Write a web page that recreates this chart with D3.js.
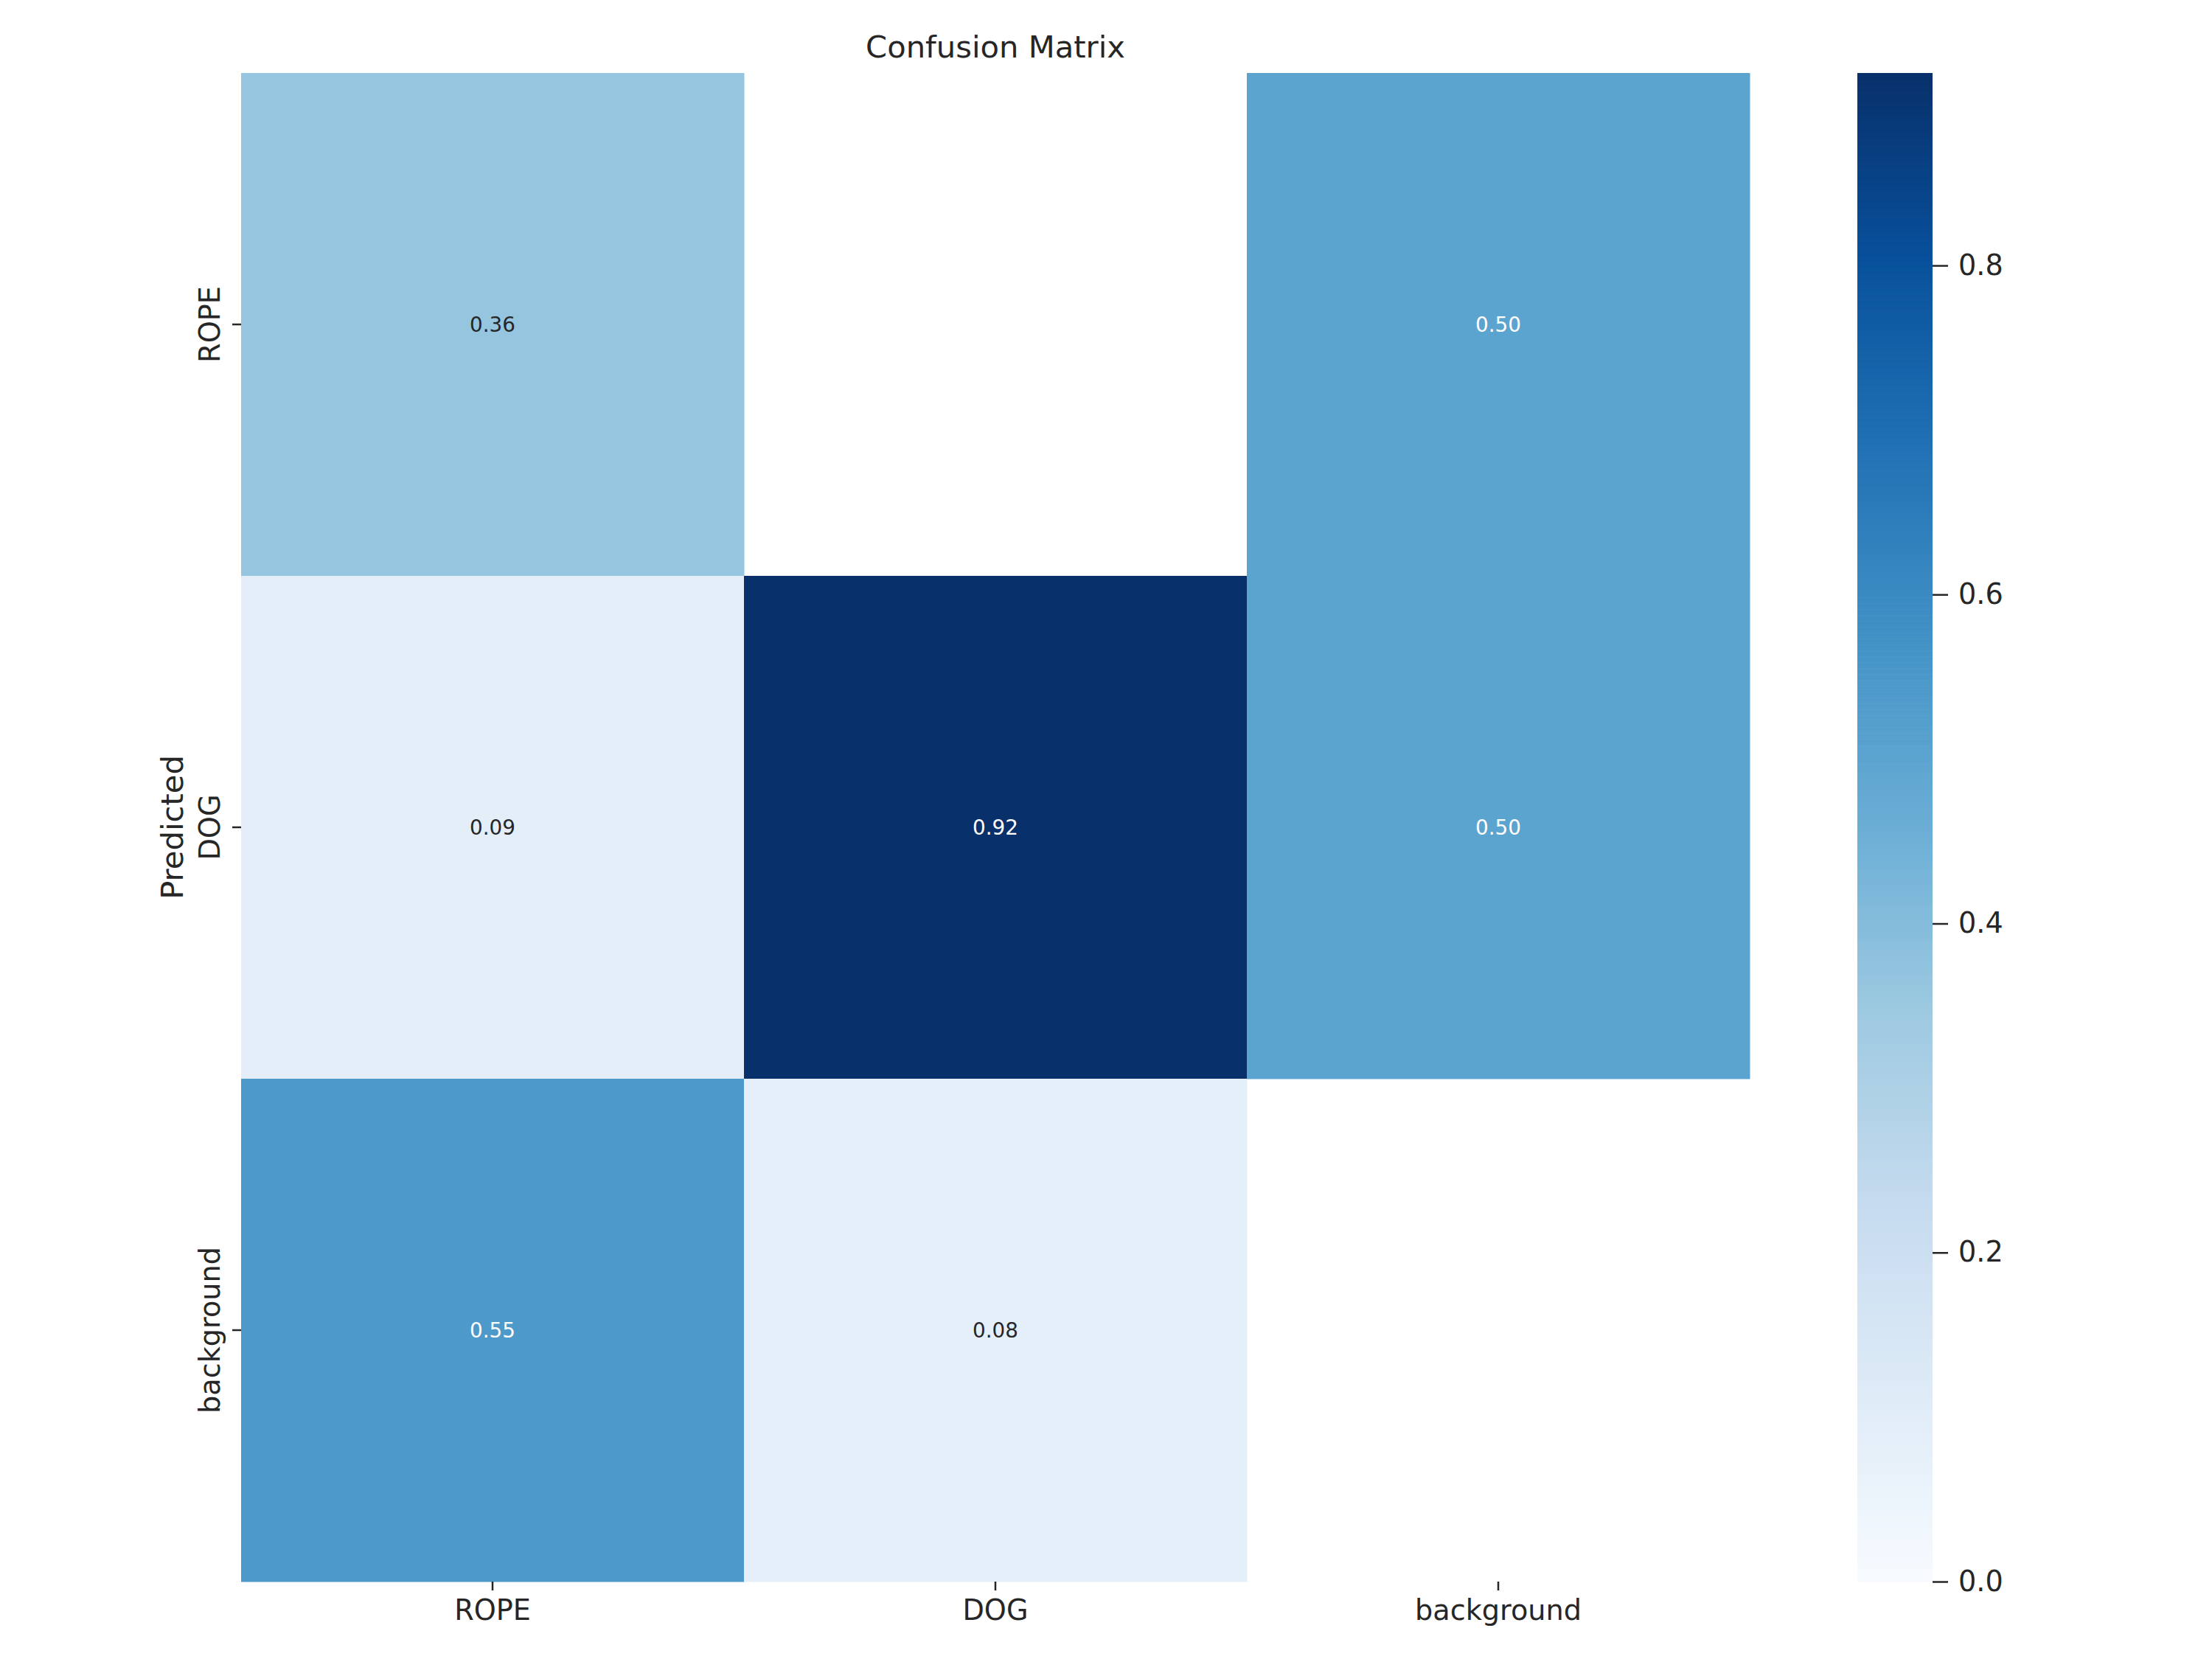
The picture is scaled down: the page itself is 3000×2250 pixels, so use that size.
<!DOCTYPE html>
<html lang="en">
<head>
    <meta charset="UTF-8">
    <title>Confusion Matrix</title>
    <script src="https://cdn.jsdelivr.net/npm/d3@7"></script>
    <style>
        body { margin: 0; background: #fff; }
        text { font-family: "DejaVu Sans", sans-serif; }
    </style>
</head>
<body>
<script type="text/javascript">
    // data: rows = predicted, columns = true
    var categories = ['ROPE', 'DOG', 'background'];
    var rowRope = [0.364, null, 0.5];
    var rowDog = [0.091, 0.917, 0.5];
    var rowBackground = [0.546, 0.083, null];
    var colorbarTicks = [0.0, 0.2, 0.4, 0.6, 0.8];
    // matplotlib "Blues" anchors
    var bluesColors = ['#f7fbff', '#deebf7', '#c6dbef', '#9ecae1', '#6baed6', '#4292c6', '#2171b5', '#08519c', '#08306b'];

    var rows = [rowRope, rowDog, rowBackground];

    var width = 3000;
    var height = 2250;
    var txt = '#262626';

    var svg = d3.select('body')
            .append('svg')
            .attr('width', width)
            .attr('height', height);

    // heatmap area
    var hm = {left: 327, top: 99, size: 2046};

    var cells = [];
    rows.forEach(function (r, i) {
        r.forEach(function (v, j) {
            if (v !== null) cells.push({row: categories[i], col: categories[j], value: v});
        });
    });

    var vmax = d3.max(cells, function (d) { return d.value; });

    var xScale = d3.scaleBand()
            .domain(categories)
            .range([hm.left, hm.left + hm.size]);
    var yScale = d3.scaleBand()
            .domain(categories)
            .range([hm.top, hm.top + hm.size]);

    var color = d3.scaleLinear()
            .domain(bluesColors.map(function (c, i) { return vmax * i / (bluesColors.length - 1); }))
            .range(bluesColors)
            .interpolate(d3.interpolateRgb)
            .clamp(true);

    function luminance(c) {
        var rgb = d3.rgb(c);
        var lin = [rgb.r, rgb.g, rgb.b].map(function (v) {
            v = v / 255;
            return v <= 0.03928 ? v / 12.92 : Math.pow((v + 0.055) / 1.055, 2.4);
        });
        return 0.2126 * lin[0] + 0.7152 * lin[1] + 0.0722 * lin[2];
    }

    //cells
    svg.selectAll('.cell')
            .data(cells)
            .enter()
            .append('rect')
            .attr('class', 'cell')
            .attr('x', function (d) { return xScale(d.col); })
            .attr('y', function (d) { return yScale(d.row); })
            .attr('width', xScale.bandwidth() + 0.5)
            .attr('height', yScale.bandwidth() + 0.5)
            .attr('fill', function (d) { return color(d.value); });

    //annotations
    svg.selectAll('.annot')
            .data(cells)
            .enter()
            .append('text')
            .attr('class', 'annot')
            .attr('x', function (d) { return xScale(d.col) + xScale.bandwidth() / 2; })
            .attr('y', function (d) { return yScale(d.row) + yScale.bandwidth() / 2; })
            .attr('dy', '0.36em')
            .attr('text-anchor', 'middle')
            .attr('font-size', 27.8)
            .attr('fill', function (d) { return luminance(color(d.value)) > 0.408 ? txt : '#ffffff'; })
            .text(function (d) { return d3.format('.2f')(d.value); });

    //x axis
    var xAxis = d3.axisBottom(xScale).tickSize(12).tickPadding(13);
    var gx = svg.append('g')
            .attr('transform', 'translate(0,' + (hm.top + hm.size) + ')')
            .call(xAxis);
    gx.select('.domain').remove();
    gx.selectAll('line').attr('stroke', txt).attr('stroke-width', 2.5);
    gx.selectAll('text').attr('font-size', 38.2).attr('fill', txt);

    //y axis
    var yAxis = d3.axisLeft(yScale).tickSize(12);
    var gy = svg.append('g')
            .attr('transform', 'translate(' + hm.left + ',0)')
            .call(yAxis);
    gy.select('.domain').remove();
    gy.selectAll('line').attr('stroke', txt).attr('stroke-width', 2.5);
    gy.selectAll('text')
            .attr('font-size', 38.2)
            .attr('fill', txt)
            .attr('transform', 'rotate(-90)')
            .attr('x', 0)
            .attr('y', -29)
            .attr('dy', 0)
            .attr('text-anchor', 'middle');

    //y label
    svg.append('text')
            .attr('transform', 'translate(248,' + (hm.top + hm.size / 2) + ') rotate(-90)')
            .attr('text-anchor', 'middle')
            .attr('font-size', 41.7)
            .attr('fill', txt)
            .text('Predicted');

    //title
    svg.append('text')
            .attr('x', hm.left + hm.size / 2)
            .attr('y', 78)
            .attr('text-anchor', 'middle')
            .attr('font-size', 41.7)
            .attr('fill', txt)
            .text('Confusion Matrix');

    //colorbar
    var cb = {left: 2519, width: 102};
    var cbScale = d3.scaleLinear()
            .domain([0, vmax])
            .range([hm.top + hm.size, hm.top]);
    var steps = d3.range(0, 256);
    var stepH = hm.size / steps.length;
    svg.selectAll('.cbstep')
            .data(steps)
            .enter()
            .append('rect')
            .attr('class', 'cbstep')
            .attr('x', cb.left)
            .attr('y', function (d) { return cbScale(vmax * (d + 1) / steps.length); })
            .attr('width', cb.width)
            .attr('height', stepH + 0.6)
            .attr('fill', function (d) { return color(vmax * (d + 0.5) / steps.length); });

    var cbAxis = d3.axisRight(cbScale)
            .tickValues(colorbarTicks)
            .tickFormat(d3.format('.1f'))
            .tickSize(21)
            .tickPadding(14);
    var gc = svg.append('g')
            .attr('transform', 'translate(' + (cb.left + cb.width) + ',0)')
            .call(cbAxis);
    gc.select('.domain').remove();
    gc.selectAll('line').attr('stroke', txt).attr('stroke-width', 2.5);
    gc.selectAll('text').attr('font-size', 38.2).attr('fill', txt);
</script>
</body>
</html>
